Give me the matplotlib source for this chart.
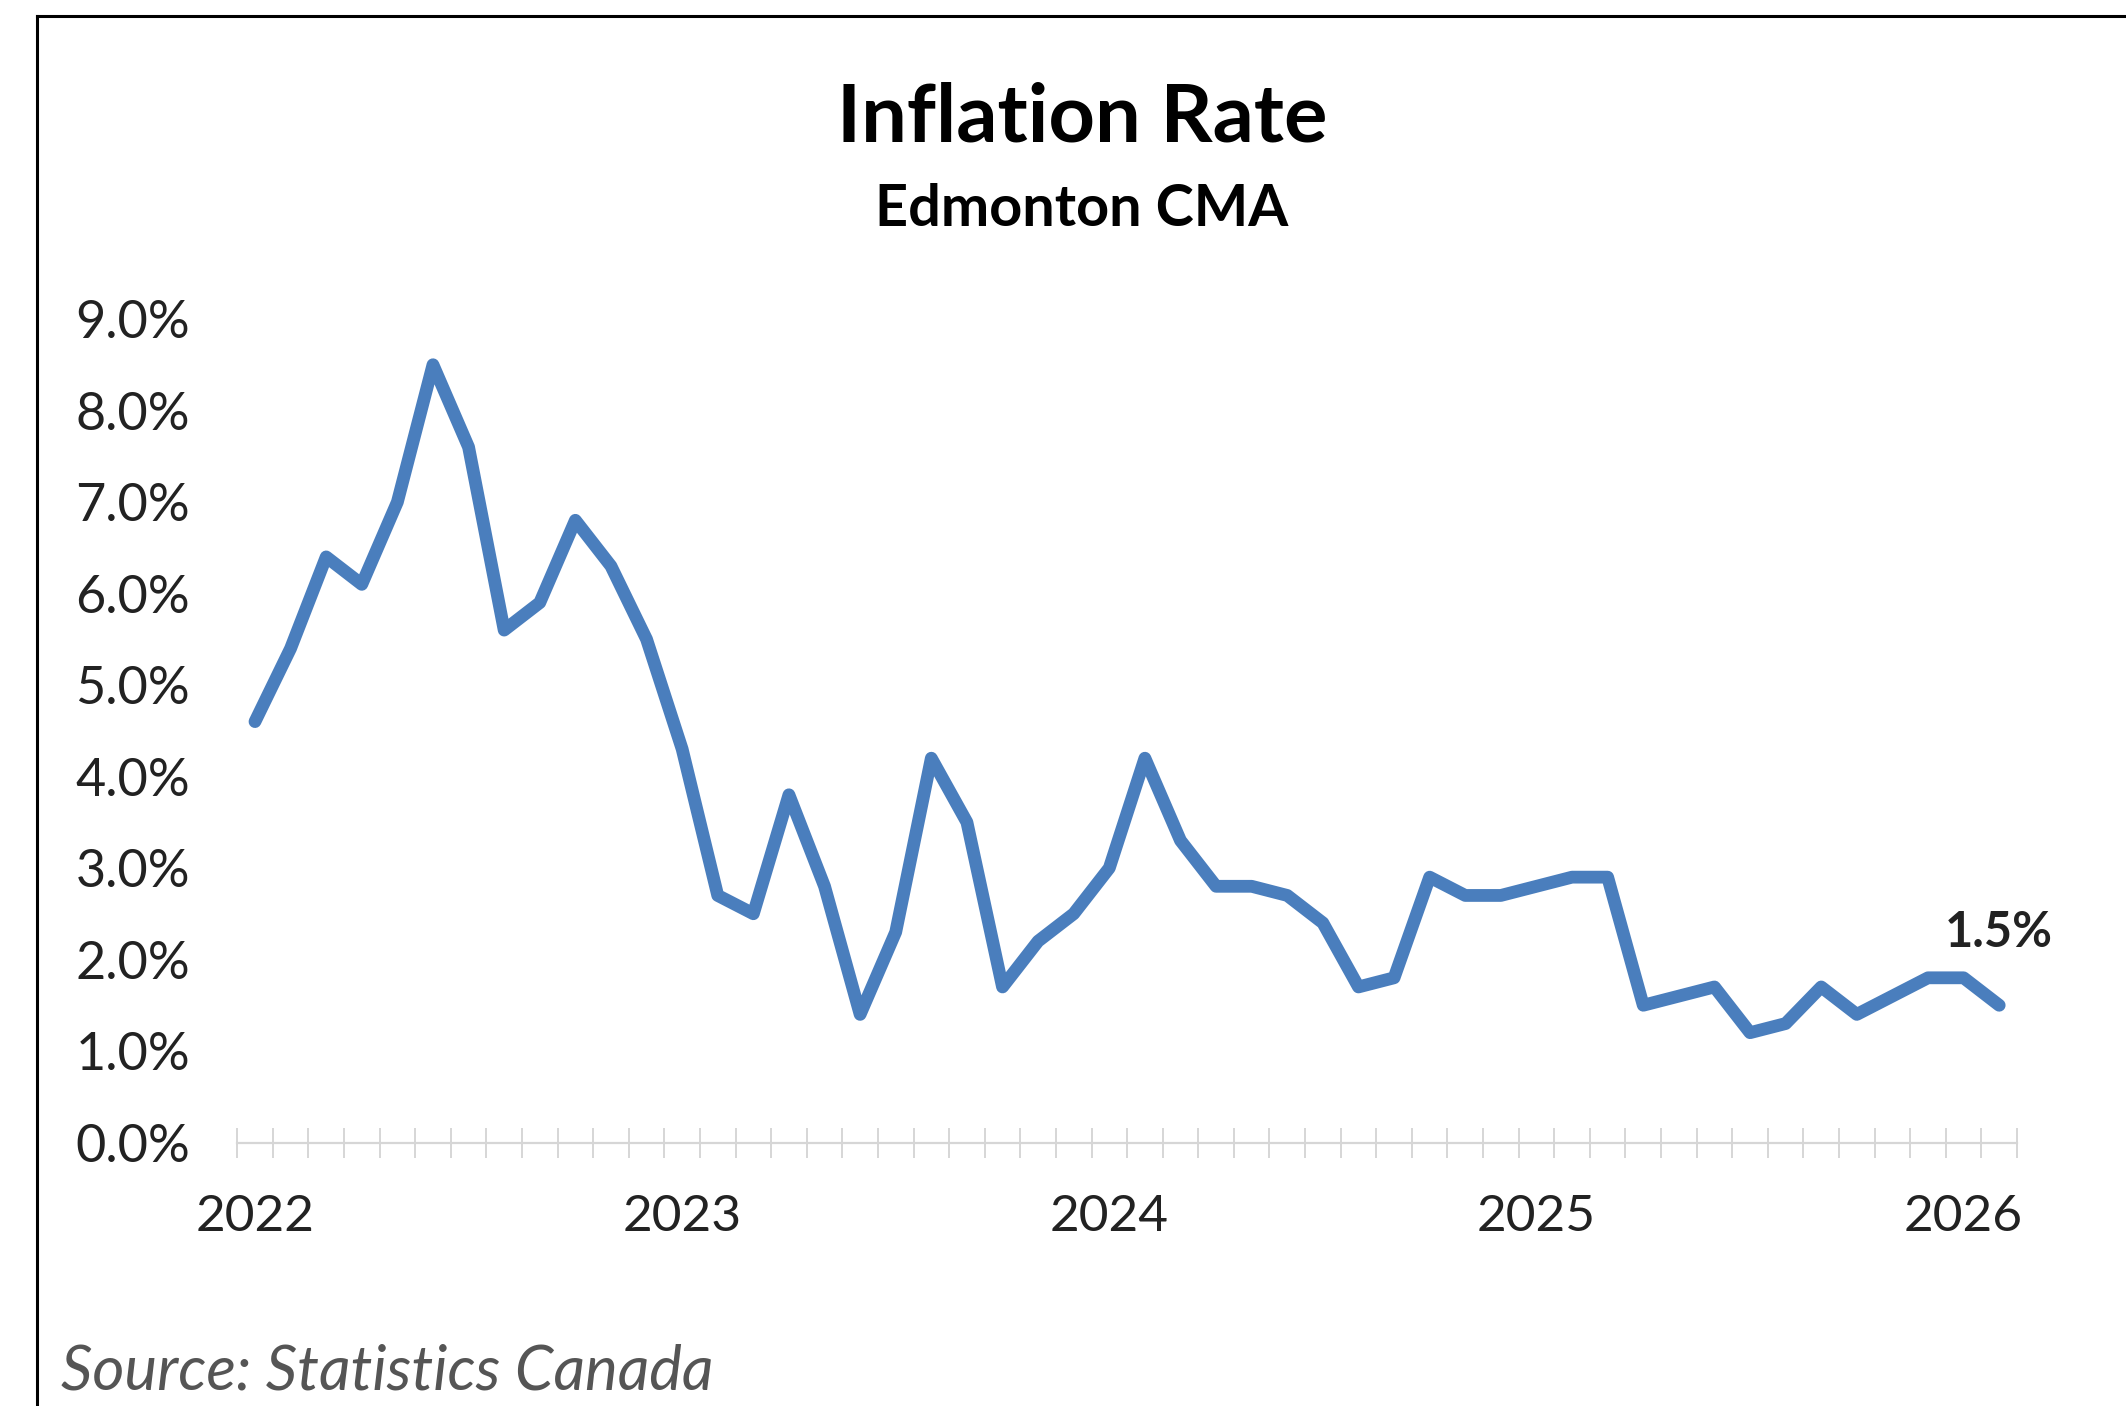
import numpy as np
import matplotlib.pyplot as plt
from matplotlib.lines import Line2D

# Edmonton CMA year-over-year CPI change, Jan 2022 - Feb 2026 (%)
months = np.arange(50)
inflation = [4.6, 5.4, 6.4, 6.1, 7.0, 8.5, 7.6, 5.6, 5.9, 6.8, 6.3, 5.5,
             4.3, 2.7, 2.5, 3.8, 2.8, 1.4, 2.3, 4.2, 3.5, 1.7, 2.2, 2.5,
             3.0, 4.2, 3.3, 2.8, 2.8, 2.7, 2.4, 1.7, 1.8, 2.9, 2.7, 2.7,
             2.8, 2.9, 2.9, 1.5, 1.6, 1.7, 1.2, 1.3, 1.7, 1.4, 1.6, 1.8,
             1.8, 1.5]
year_labels = ['2022', '2023', '2024', '2025', '2026']
year_pos = [0, 12, 24, 36, 48]
y_ticks = np.arange(0, 10)

W, H = 2126, 1406
fig = plt.figure(figsize=(W / 100, H / 100), dpi=100)
fig.patch.set_facecolor('white')

ax = fig.add_axes([237.2 / W, 1 - 1142.5 / H, (2017 - 237.2) / W, (1142.5 - 319) / H])

line_color = '#4a7ebd'
ax.plot(months, inflation, color=line_color, lw=9.2, solid_joinstyle='round',
        solid_capstyle='round', zorder=3)

ax.set_xlim(-0.5, 49.5)
ax.set_ylim(0, 9)

for s in ['top', 'right', 'left']:
    ax.spines[s].set_visible(False)
ax.spines['bottom'].set_color('#d6d6d6')
ax.spines['bottom'].set_linewidth(1.6)

# y axis: percent labels, no tick marks
ax.set_yticks(y_ticks)
ax.set_yticklabels([f'{v:.1f}%' for v in y_ticks], fontfamily='Lato',
                   fontsize=37.5, color='#222222')
ax.tick_params(axis='y', length=0, pad=34)

# x axis: year labels at January, month dividers as crossing ticks
ax.set_xticks(year_pos)
ax.set_xticklabels(year_labels, fontfamily='Lato', fontsize=37, color='#222222')
ax.set_xticks(np.arange(-0.5, 50, 1), minor=True)
ax.tick_params(axis='x', which='major', length=0, pad=37)
ax.tick_params(axis='x', which='minor', direction='inout', length=21,
               width=1.4, color='#d6d6d6')

# latest value callout
ax.text(months[-1], inflation[-1] + 0.55, f'{inflation[-1]:.1f}%',
        ha='center', va='bottom', fontfamily='Lato', fontweight='bold',
        fontsize=35, color='#222222')

fig.text(1082 / W, 1 - 119 / H, 'Inflation Rate', ha='center', va='center',
         fontfamily='Lato', fontweight='bold', fontsize=58.5, color='black')
fig.text(1082 / W, 1 - 210 / H, 'Edmonton CMA', ha='center', va='center',
         fontfamily='Lato', fontweight='bold', fontsize=41.5, color='black')
fig.text(61 / W, 1 - 1372 / H, 'Source: Statistics Canada', ha='left', va='center',
         fontfamily='Lato', fontstyle='italic', fontsize=44.5, color='#555555')

# frame around the graphic
fig.add_artist(Line2D([37 / W, 1], [1 - 16 / H, 1 - 16 / H], transform=fig.transFigure,
                      color='black', lw=2.2))
fig.add_artist(Line2D([37 / W, 37 / W], [0, 1 - 16 / H], transform=fig.transFigure,
                      color='black', lw=2.2))

fig.savefig('out.png', dpi=100, facecolor='white')
